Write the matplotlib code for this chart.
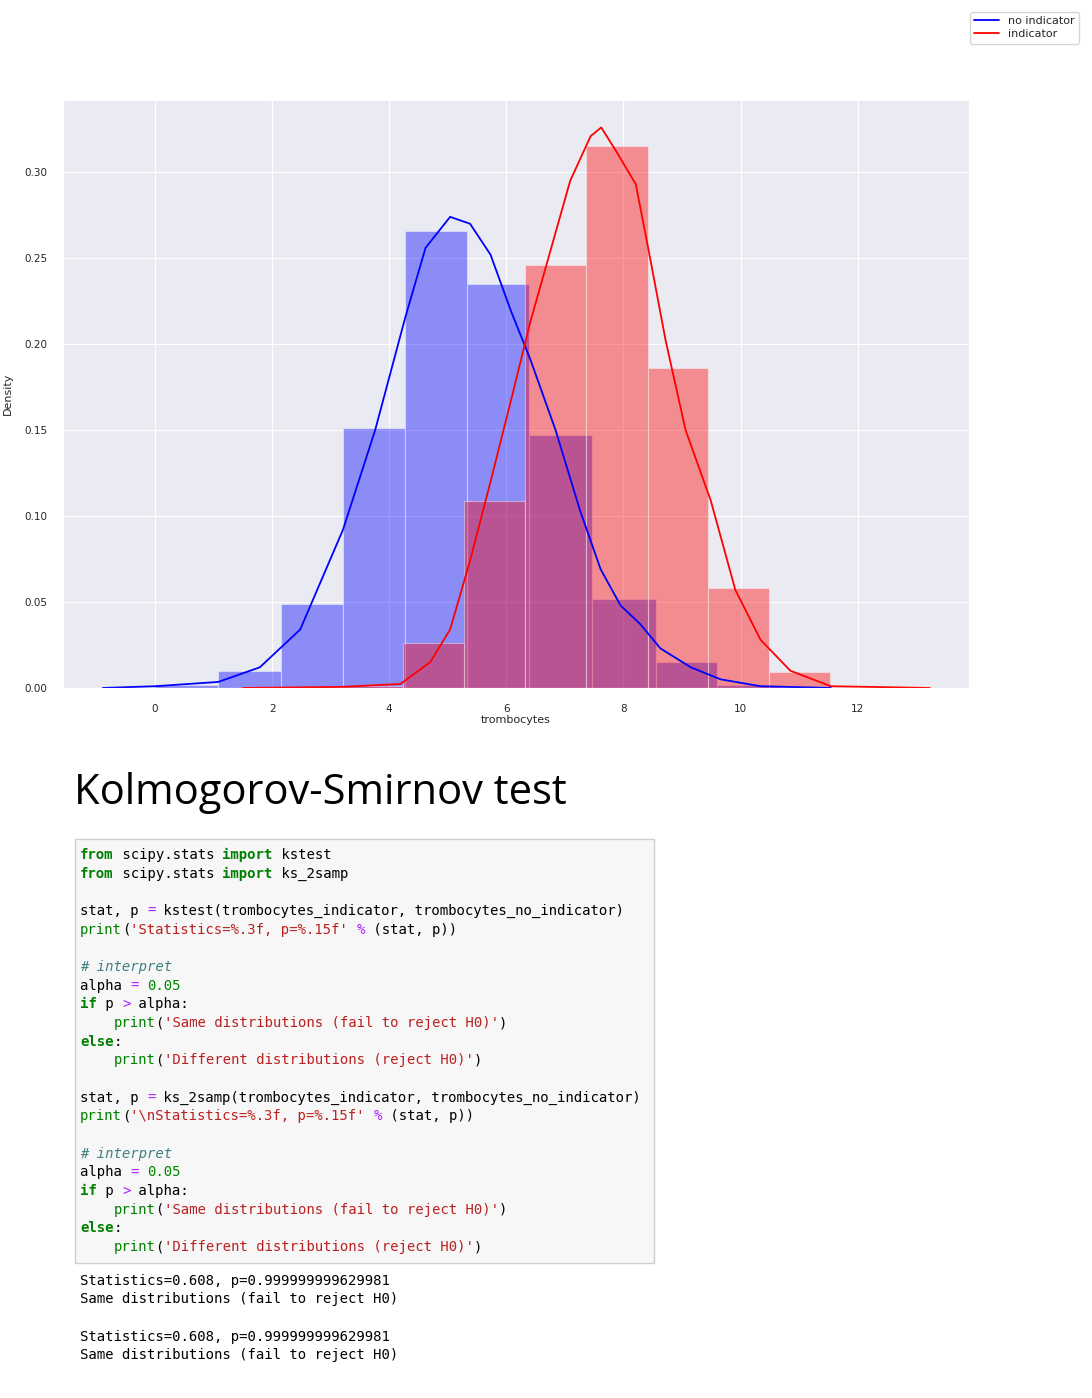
import matplotlib
matplotlib.use("Agg")
import matplotlib.pyplot as plt
import seaborn as sns
import numpy as np

sns.set_style("darkgrid")
plt.rcParams['font.family'] = ['DejaVu Sans']

# histogram bins (left edges, width, density)
blue_edges = [0.0, 1.08, 2.15, 3.21, 4.27, 5.33, 6.39, 7.47, 8.55, 9.6, 10.68]
blue_heights = [0.002, 0.010, 0.049, 0.151, 0.266, 0.235, 0.147, 0.052, 0.015, 0.002]
red_edges = [3.19, 4.24, 5.28, 6.32, 7.36, 8.41, 9.45, 10.48, 11.53]
red_heights = [0.001, 0.026, 0.109, 0.246, 0.315, 0.186, 0.058, 0.009]

# kde curves
blue_kde_x = [-0.89, 0.0, 1.08, 1.79, 2.48, 3.21, 3.76, 4.27, 4.62, 5.04, 5.38, 5.73, 6.07,
              6.41, 6.84, 7.26, 7.61, 7.95, 8.29, 8.63, 9.15, 9.66, 10.34, 11.54]
blue_kde_y = [0.0, 0.001, 0.0035, 0.012, 0.034, 0.092, 0.150, 0.215, 0.256, 0.274, 0.270, 0.252, 0.220,
              0.191, 0.150, 0.103, 0.069, 0.048, 0.037, 0.023, 0.012, 0.005, 0.001, 0.0]
red_kde_x = [1.50, 3.16, 4.19, 4.70, 5.04, 5.38, 5.73, 6.07, 6.41, 6.75, 7.09, 7.44, 7.62, 7.86,
             8.21, 8.46, 8.72, 9.06, 9.49, 9.91, 10.34, 10.85, 11.54, 13.23]
red_kde_y = [0.0, 0.0006, 0.0023, 0.015, 0.034, 0.074, 0.120, 0.166, 0.213, 0.254, 0.295, 0.321, 0.326, 0.313,
             0.293, 0.249, 0.202, 0.150, 0.109, 0.057, 0.028, 0.010, 0.001, 0.0]

fig = plt.figure(figsize=(10.92, 13.98), dpi=100)
ax = fig.add_axes([0.0577, 0.5079, 0.8297, 0.4206])

bw = np.diff(blue_edges)
ax.bar(blue_edges[:-1], blue_heights, width=bw, align='edge', color='blue', alpha=0.4, edgecolor='white', linewidth=0.8)
rw = np.diff(red_edges)
ax.bar(red_edges[:-1], red_heights, width=rw, align='edge', color='red', alpha=0.4, edgecolor='white', linewidth=0.8)
ax.plot(blue_kde_x, blue_kde_y, color='blue', lw=1.3, label='no indicator')
ax.plot(red_kde_x, red_kde_y, color='red', lw=1.3, label='indicator')

ax.set_xlim(-1.57, 13.9)
ax.set_ylim(0, 0.342)
ax.set_xticks([0, 2, 4, 6, 8, 10, 12])
ax.set_yticks([0.0, 0.05, 0.10, 0.15, 0.20, 0.25, 0.30])
ax.set_yticklabels(['0.00', '0.05', '0.10', '0.15', '0.20', '0.25', '0.30'])
ax.tick_params(labelsize=7.5, colors='#262626', pad=8)
ax.set_xlabel('trombocytes', fontsize=8, labelpad=1)
ax.set_ylabel('Density', fontsize=8, labelpad=8)
ax.legend(loc='upper right', bbox_to_anchor=(0.993, 0.9955), bbox_transform=fig.transFigure,
          fontsize=8, frameon=True, facecolor='white', edgecolor='#cccccc', handlelength=2.2,
          borderpad=0.4, labelspacing=0.25)

# overlay in pixel coordinates for the notebook text
ov = fig.add_axes([0, 0, 1, 1])
ov.set_xlim(0, 1092)
ov.set_ylim(1398, 0)
ov.axis('off')
ov.patch.set_alpha(0)

ov.text(74, 793, 'Kolmogorov-Smirnov test', fontsize=30, family='Open Sans', va='center', color='black')
ov.add_patch(plt.Rectangle((75, 839), 579, 424, facecolor='#f7f7f7', edgecolor='#cfcfcf', lw=1))

K = ('#008000', 'bold', 'normal')
N = ('#000000', 'normal', 'normal')
S = ('#BA2121', 'normal', 'normal')
O = ('#AA22FF', 'normal', 'normal')
C = ('#408080', 'normal', 'italic')
B = ('#008000', 'normal', 'normal')
M = ('#008800', 'normal', 'normal')

code_lines = [
    [('from', K), (' scipy.stats ', N), ('import', K), (' kstest', N)],
    [('from', K), (' scipy.stats ', N), ('import', K), (' ks_2samp', N)],
    [],
    [('stat, p ', N), ('=', O), (' kstest(trombocytes_indicator, trombocytes_no_indicator)', N)],
    [('print', B), ('(', N), ("'Statistics=%.3f, p=%.15f'", S), (' ', N), ('%', O), (' (stat, p))', N)],
    [],
    [('# interpret', C)],
    [('alpha ', N), ('=', O), (' ', N), ('0.05', M)],
    [('if', K), (' p ', N), ('>', O), (' alpha:', N)],
    [('    ', N), ('print', B), ('(', N), ("'Same distributions (fail to reject H0)'", S), (')', N)],
    [('else', K), (':', N)],
    [('    ', N), ('print', B), ('(', N), ("'Different distributions (reject H0)'", S), (')', N)],
    [],
    [('stat, p ', N), ('=', O), (' ks_2samp(trombocytes_indicator, trombocytes_no_indicator)', N)],
    [('print', B), ('(', N), ("'\\nStatistics=%.3f, p=%.15f'", S), (' ', N), ('%', O), (' (stat, p))', N)],
    [],
    [('# interpret', C)],
    [('alpha ', N), ('=', O), (' ', N), ('0.05', M)],
    [('if', K), (' p ', N), ('>', O), (' alpha:', N)],
    [('    ', N), ('print', B), ('(', N), ("'Same distributions (fail to reject H0)'", S), (')', N)],
    [('else', K), (':', N)],
    [('    ', N), ('print', B), ('(', N), ("'Different distributions (reject H0)'", S), (')', N)],
]

output_lines = [
    'Statistics=0.608, p=0.999999999629981',
    'Same distributions (fail to reject H0)',
    '',
    'Statistics=0.608, p=0.999999999629981',
    'Same distributions (fail to reject H0)',
]

cw = 8.38
for i, segs in enumerate(code_lines):
    y = 855 + i * 18.67
    col = 0
    for txt, (c, w, st) in segs:
        ov.text(80 + col * cw, y, txt, family='DejaVu Sans Mono', fontsize=10.1, color=c,
                fontweight=w, fontstyle=st, va='center', ha='left')
        col += len(txt)

for i, line in enumerate(output_lines):
    ov.text(80, 1281 + i * 18.5, line, family='DejaVu Sans Mono', fontsize=10.1, color='black', va='center')

fig.savefig('out.png', dpi=100)
